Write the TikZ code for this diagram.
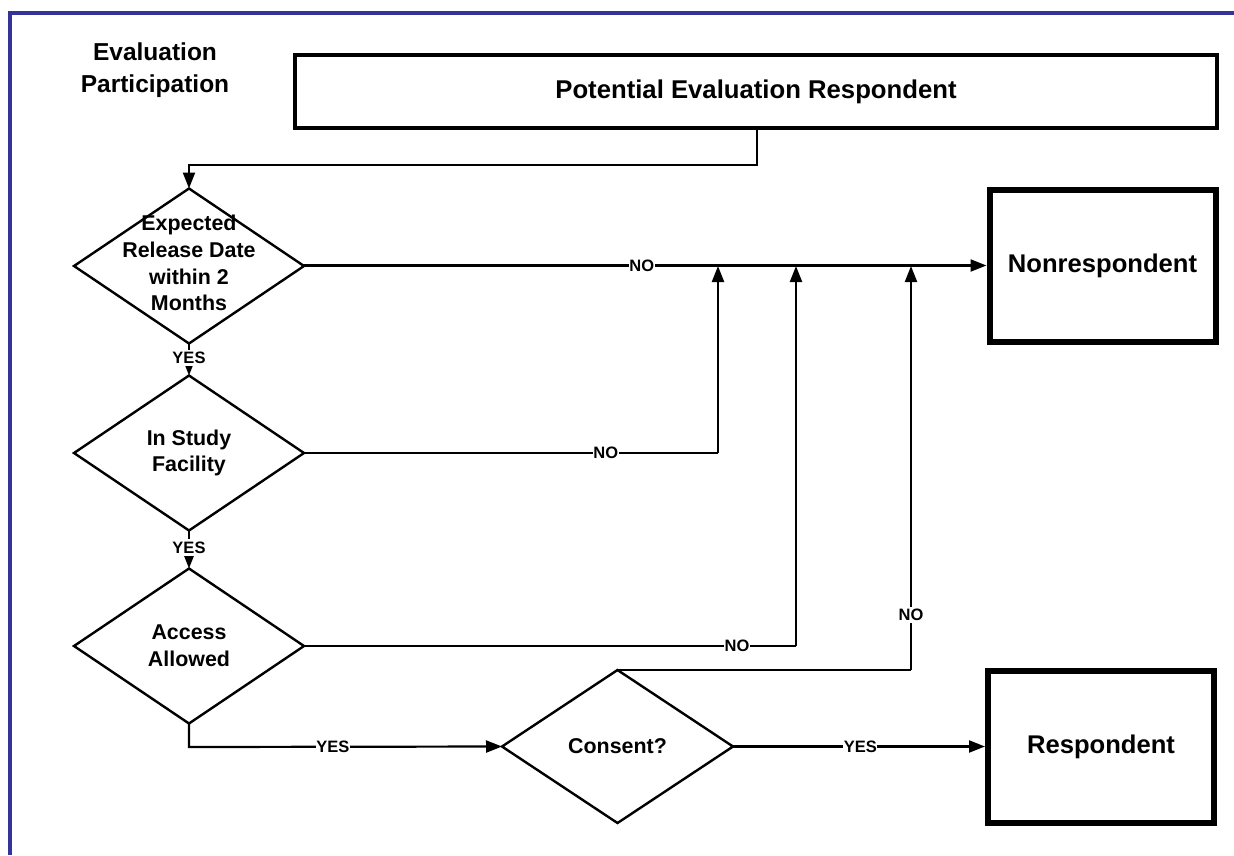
\documentclass[tikz,border=0pt]{standalone}
\usepackage{fontspec}
\setmainfont{Liberation Sans}
\usetikzlibrary{shapes.geometric,arrows.meta}
\definecolor{frameblue}{RGB}{51,51,153}
\tikzset{
  dia/.style={diamond, draw, line width=2.4pt, inner sep=0pt, outer sep=0pt, minimum width=230pt, minimum height=155pt},
  dtext/.style={align=center, font=\fontsize{21.4}{26.7}\selectfont\bfseries},
  bigbox/.style={draw, line width=6pt, inner sep=0pt, minimum width=226pt, minimum height=152pt, font=\fontsize{25.6}{30}\selectfont\bfseries},
  conn/.style={line width=2.2pt, -{Triangle[length=16pt,width=12pt]}},
  plain/.style={line width=2.2pt},
  lbl/.style={fill=white, inner xsep=0.6pt, inner ysep=2.5pt, font=\fontsize{16.5}{18}\selectfont\bfseries},
}
\begin{document}
\begin{tikzpicture}[x=1pt,y=-1pt]
\useasboundingbox (0,0) rectangle (1234,855);
% frame
\draw[frameblue, line width=4pt] (10,855) -- (10,12.5) -- (1234,12.5);
% title
\node[align=center, font=\fontsize{24.5}{32}\selectfont\bfseries] (title) at (155,70) {Evaluation\\Participation};
% top box
\node[draw, line width=4pt, inner sep=0pt, minimum width=922pt, minimum height=73pt, font=\fontsize{25.7}{30}\selectfont\bfseries] (top) at (756,91.5) {Potential Evaluation Respondent};
% diamonds
\node[dia] (d1) at (189,266) {};
\node[dtext] at (189,263) {Expected\\Release Date\\within 2\\Months};
\node[dia] (d2) at (189,453) {};
\node[dtext] at (189,453) {In Study\\Facility};
\node[dia] (d3) at (189,646) {};
\node[dtext] at (189,646) {Access\\Allowed};
\node[dia, minimum width=231pt, minimum height=153pt] (d4) at (617.5,746.5) {};
\node[dtext] at (617.5,746.5) {Consent?};
% result boxes
\node[bigbox] (non) at (1102.5,265.5) {Nonrespondent};
\node[bigbox] (res) at (1101,746.5) {Respondent};
% helper coordinates
\coordinate (c1) at (757,165);
\coordinate (v2) at (718,453);
\coordinate (v3) at (796,646);
\coordinate (v4) at (911,670);
\coordinate (b3) at (189,747);
% connectors
\draw[conn] (top.south -| c1) -- (c1) -- (c1 -| d1.north) -- (d1.north);
\draw[conn] (d1.east) -- (non.west -| d1.east) -- (non.west) node[lbl, pos=0.495] {NO};
\draw[conn] (d1.south) -- (d2.north) node[lbl, pos=0.45] {YES};
\draw[conn] (d2.south) -- (d3.north) node[lbl, pos=0.45] {YES};
\draw[plain] (d2.east) -- (v2) node[lbl, pos=0.729] {NO};
\draw[conn] (v2) -- (v2 |- d1.east);
\draw[plain] (d3.east) -- (v3) node[lbl, pos=0.88] {NO};
\draw[conn] (v3) -- (v3 |- d1.east);
\draw[plain] (d4.north) -- (v4);
\draw[conn] (v4) -- (v4 |- d1.east) node[lbl, pos=0.136] {NO};
\draw[conn] (d3.south) -- (b3) -- (d4.west) node[lbl, pos=0.46] {YES};
\draw[conn] (d4.east) -- (res.west) node[lbl, pos=0.505] {YES};
\end{tikzpicture}
\end{document}
